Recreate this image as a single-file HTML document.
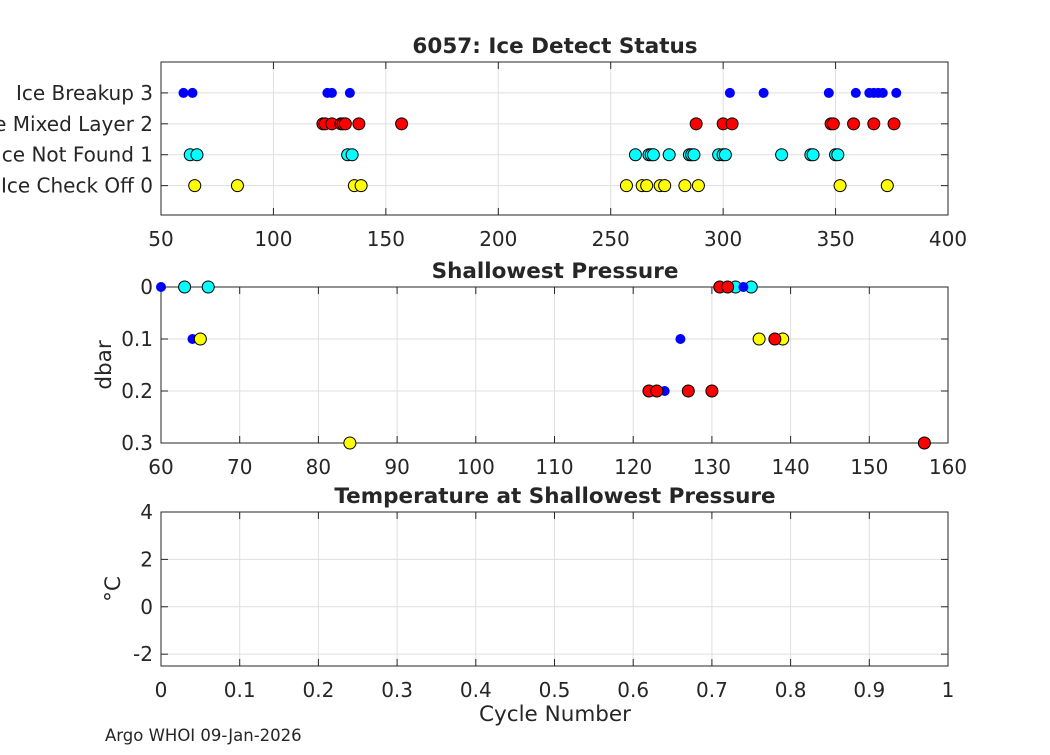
<!DOCTYPE html>
<html><head><meta charset="utf-8"><style>
body{margin:0;background:#fff;}
svg text{font-family:"DejaVu Sans","Liberation Sans",sans-serif;fill:#262626;}
</style></head><body>
<svg id="c" width="1050" height="750" xmlns="http://www.w3.org/2000/svg"></svg>
<script>
// ---- data ----
const iceBlueX=[60,64,124,126,134,303,318,347,359,365,367,369,371,377];
const iceRedX=[122,123,126,130,131,132,138,157,288,300,304,348,349,358,367,376];
const iceCyanX=[63,66,133,135,261,267,268,269,276,285,286,287,298,300,301,326,339,340,350,351];
const iceYellowX=[65,84,136,139,257,264,266,272,274,283,289,352,373];
const iceTicksX=[50,100,150,200,250,300,350,400];
const iceLevels=[0,1,2,3];
const iceLabels=["Ice Check Off 0","Ice Not Found 1","Ice Mixed Layer 2","Ice Breakup 3"];
const presBlue=[[60,0],[64,0.1],[126,0.1],[124,0.2],[134,0]];
const presCyan=[[63,0],[66,0],[133,0],[135,0]];
const presYellow=[[65,0.1],[84,0.3],[136,0.1],[139,0.1]];
const presRed=[[122,0.2],[123,0.2],[127,0.2],[130,0.2],[131,0],[132,0],[138,0.1],[157,0.3]];
const presTicksX=[60,70,80,90,100,110,120,130,140,150,160];
const presTicksY=[0,0.1,0.2,0.3];
const tempTicksX=[0,0.1,0.2,0.3,0.4,0.5,0.6,0.7,0.8,0.9,1];
const tempTicksY=[-2,0,2,4];

const svg=document.getElementById('c');
const NS='http://www.w3.org/2000/svg';
function el(t,a,p){const e=document.createElementNS(NS,t);for(const k in a)e.setAttribute(k,a[k]);(p||svg).appendChild(e);return e;}
function txt(s,a,p){const e=el('text',a,p);e.textContent=s;return e;}
const L=161,R=948;
function panel(name,top,bot,xmin,xmax,ymin,ymax,rev,xt,yt,ylabels){
  const g=el('g',{});
  
  
  const sx=v=>L+(v-xmin)/(xmax-xmin)*(R-L);
  const sy=v=>rev? top+(v-ymin)/(ymax-ymin)*(bot-top) : bot-(v-ymin)/(ymax-ymin)*(bot-top);
  el('rect',{x:L,y:top,width:R-L,height:bot-top,fill:'#fff'},g);
  xt.forEach(v=>{const x=sx(v);el('line',{x1:x,x2:x,y1:top,y2:bot,stroke:'#dfdfdf','stroke-width':1},g);
    el('line',{x1:x,x2:x,y1:bot,y2:bot-7,stroke:'#262626'},g);el('line',{x1:x,x2:x,y1:top,y2:top+7,stroke:'#262626'},g);
    const t=txt(String(v),{x:x,y:bot+31,'text-anchor':'middle','font-size':20},g);
    });
  yt.forEach((v,i)=>{const y=sy(v);el('line',{x1:L,x2:R,y1:y,y2:y,stroke:'#dfdfdf'},g);
    el('line',{x1:L,x2:L+7,y1:y,y2:y,stroke:'#262626'},g);el('line',{x1:R,x2:R-7,y1:y,y2:y,stroke:'#262626'},g);
    const t=txt(ylabels?ylabels[i]:String(v),{x:L-8,y:y+7,'text-anchor':'end','font-size':20},g);
    });
  el('rect',{x:L,y:top,width:R-L,height:bot-top,fill:'none',stroke:'#262626','stroke-width':1},g);
  return {g,sx,sy};
}
function dot(g,x,y,color,name){
  const big=color!=='#0000ff';
  const c=el('circle',{cx:x,cy:y,r:big?6:5,fill:color,stroke:big?'#000':'none','stroke-width':1},g);
  
  
}
// Panel 1
const p1=panel('ice-detect-panel',62,215,50,400,-0.95,4,false,iceTicksX,iceLevels,iceLabels);
[[iceYellowX,0,'#ffff00'],[iceCyanX,1,'#00ffff'],[iceRedX,2,'#ff0000'],[iceBlueX,3,'#0000ff']].forEach(s=>{
  s[0].forEach(v=>dot(p1.g,p1.sx(v),p1.sy(s[1]),s[2],'ice-status-point'));});
txt('6057: Ice Detect Status',{x:555,y:53,'text-anchor':'middle','font-size':21.5,'font-weight':'bold',fill:'#000'});
// Panel 2
const p2=panel('shallowest-pressure-panel',287,443,60,160,0,0.3,true,presTicksX,presTicksY,null);
[[presCyan,'#00ffff'],[presBlue,'#0000ff'],[presYellow,'#ffff00'],[presRed,'#ff0000']].forEach(s=>{
  s[0].forEach(p=>dot(p2.g,p2.sx(p[0]),p2.sy(p[1]),s[1],'pressure-point'));});
txt('Shallowest Pressure',{x:555,y:278,'text-anchor':'middle','font-size':21.5,'font-weight':'bold',fill:'#000'});
txt('dbar',{x:111,y:365,'text-anchor':'middle','font-size':21.5,transform:'rotate(-90 111 365)'});
// Panel 3
const p3=panel('temperature-panel',512,666,0,1,-2.5,4,false,tempTicksX,tempTicksY,null);
txt('Temperature at Shallowest Pressure',{x:555,y:503,'text-anchor':'middle','font-size':21.5,'font-weight':'bold',fill:'#000'});
txt('°C',{x:120,y:589,'text-anchor':'middle','font-size':21.5,transform:'rotate(-90 120 589)'});
txt('Cycle Number',{x:555,y:721,'text-anchor':'middle','font-size':21.5});
txt('Argo WHOI 09-Jan-2026',{x:105,y:741,'font-size':16.5,fill:'#000'});
</script>
</body></html>
